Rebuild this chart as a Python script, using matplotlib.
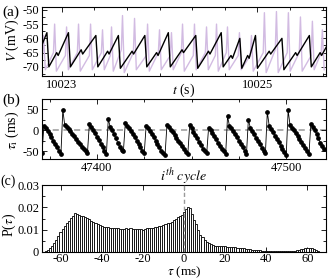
import numpy as np
import matplotlib
matplotlib.use("Agg")
import matplotlib.pyplot as plt
from matplotlib.ticker import MultipleLocator, FixedLocator, FuncFormatter

plt.rcParams['font.family'] = ['Liberation Serif', 'DejaVu Serif']
plt.rcParams['mathtext.fontset'] = 'stix'
plt.rcParams['axes.unicode_minus'] = False
plt.rcParams['font.size'] = 9

# ---- panel (a): membrane potential, vertices ----
black_t = [10022.78, 10022.85, 10022.87, 10022.95, 10022.965,
           10023.07, 10023.09, 10023.20, 10023.215,
           10023.35, 10023.37, 10023.47, 10023.485,
           10023.58, 10023.60, 10023.72, 10023.735,
           10023.85, 10023.87, 10023.97, 10023.985,
           10024.09, 10024.11, 10024.23, 10024.245,
           10024.37, 10024.39, 10024.50, 10024.515,
           10024.63, 10024.65, 10024.73, 10024.745,
           10024.82, 10024.84, 10024.90, 10024.915,
           10024.98, 10025.00, 10025.12, 10025.135,
           10025.25, 10025.27, 10025.39, 10025.405,
           10025.53, 10025.55, 10025.64, 10025.655, 10025.72]
black_v = [-64, -58, -70, -65, -66,
           -58, -70, -64, -65.5,
           -59, -70, -64.5, -65.5,
           -59, -70.5, -64.5, -65.5,
           -59, -70, -65, -66,
           -58, -70, -64, -65,
           -59, -70.5, -64.5, -65.5,
           -58, -70, -66, -67,
           -60, -70.5, -66, -67,
           -59, -70.5, -64.5, -65.5,
           -60, -71, -65, -66,
           -59, -70, -65, -66, -62]

purple_peak_t = [10022.816, 10022.929, 10023.051, 10023.173, 10023.296, 10023.418,
                 10023.510, 10023.622, 10023.745, 10023.878, 10024.000, 10024.122,
                 10024.235, 10024.357, 10024.480, 10024.582, 10024.694, 10024.816,
                 10024.939, 10025.071, 10025.194, 10025.316, 10025.439, 10025.561,
                 10025.663]
purple_peak_v = [-59, -55, -56, -55, -55, -57, -56, -52, -53, -55, -57, -58,
                 -55, -55, -56, -55, -56, -58, -59, -51, -50.6, -51, -52.5, -54, -57]
purple_pre_v = [-66, -65, -66, -65, -66, -65, -66, -64, -65, -66, -65, -66,
                -65, -66, -65, -66, -65, -66, -66, -65, -64, -65, -65, -66, -65]
purple_low_v = [-71, -71.5, -71, -71.5, -71, -71, -71.5, -72, -71, -71.5, -71, -71,
                -71.5, -71, -71, -71.5, -71, -71, -71.5, -72, -72, -71.5, -71.5, -71, -71]

# ---- panel (b): phase lag per cycle ----
cycle_first = 47371
tau_ms = [-55,
          10, 4, -2, -9, -17, -25, -33, -41, -49, -57,
          48, 12, 8, 3, -3, -9, -15, -21, -28, -34, -40, -46, -51, -55,
          14, 7, 0, -8, -16, -24, -33, -41, -50, -58,
          26, 8, 0, -10, -20, -30, -40, -48, -50,
          17, 10, 4, -2, -9, -17, -25, -33, -41, -49, -55,
          10, 4, -3, -10, -17, -25, -33, -41, -49, -55, -59,
          13, 7, 1, -5, -11, -18, -25, -32, -39, -46, -52, -58,
          11, 4, -4, -12, -20, -28, -36, -44, -50, -55,
          6, 0, -7, -14, -22, -30, -38, -46, -50, -58,
          33, 10, 4, -2, -9, -17, -25, -33, -41, -50, -57,
          25, 6, -2, -10, -18, -26, -34, -42, -50, -55,
          43, 10, 3, -5, -13, -21, -29, -37, -45, -53, -60,
          47, 12, 5, -1, -7, -14, -21, -28, -35, -42, -50, -58,
          15, 8, 1, -10, -20, -30, -38, -45]

# ---- panel (c): histogram of tau, 1 ms bins from -68 to 66 (units of 1e-3) ----
hist_first = -68
hist_vals = [0.1, 0.3, 0.8, 1.6, 2.5, 3.9, 5.4, 7.2, 8.8, 10.2,
             11.5, 12.8, 14.0, 15.2, 16.3, 17.3, 17.0, 16.6, 16.3, 16.0,
             15.7, 15.3, 14.8, 14.0, 13.5, 13.0, 12.5, 12.0, 11.6, 11.4,
             11.3, 11.1, 10.9, 10.8, 10.9, 10.6, 10.8, 10.5, 10.3, 10.1,
             10.6, 10.4, 10.6, 10.2, 10.5, 10.3, 10.1, 10.4, 10.0, 10.5,
             10.6, 10.7, 10.8, 10.9, 11.1, 11.3, 11.5, 11.7, 12.0, 12.4,
             12.8, 13.2, 13.6, 14.2, 14.8, 15.5, 16.2, 16.6, 18.0, 19.3,
             20.3, 19.5, 17.0, 14.5, 12.5, 10.0, 7.8, 6.5, 5.5, 4.6,
             4.0, 3.5, 3.1, 2.9, 2.8, 2.7, 2.6, 2.5, 2.5, 2.4,
             2.4, 2.3, 2.2, 2.1, 2.0, 1.9, 1.8, 1.6, 1.5, 1.4,
             1.2, 1.1, 1.0, 0.9, 0.8, 0.7, 0.6, 0.5, 0.45, 0.4,
             0.4, 0.35, 0.35, 0.3, 0.3, 0.3, 0.3, 0.3, 0.3, 0.35,
             0.4, 0.5, 0.6, 0.7, 0.9, 1.2, 1.5, 1.7, 1.8, 1.8,
             1.7, 1.5, 1.0, 0.4]

purple = '#d2bbe2'

fig = plt.figure(figsize=(3.32, 2.79), dpi=100)
W, H = 332.0, 279.0


def box(l, t, r, b):
    return [l / W, 1 - b / H, (r - l) / W, (b - t) / H]


def style(ax):
    ax.tick_params(direction='in', which='both', top=True, right=True,
                   labelsize=9, pad=2)
    ax.tick_params(which='major', length=3.5, width=0.6)
    ax.tick_params(which='minor', length=2, width=0.6)
    for s in ax.spines.values():
        s.set_linewidth(0.8)


# (a)
ax1 = fig.add_axes(box(42, 7, 326, 76))
pt, pv = [], []
for t, v, a, b in zip(purple_peak_t, purple_peak_v, purple_pre_v, purple_low_v):
    pt += [t - 0.012, t, t + 0.018]
    pv += [a, v, b]
ax1.plot(pt, pv, color=purple, lw=1.0)
ax1.plot(black_t, black_v, color='black', lw=1.0)
ax1.set_xlim(10022.8, 10025.7)
ax1.set_ylim(-73.2, -49)
ax1.xaxis.set_major_locator(FixedLocator([10023, 10025]))
ax1.xaxis.set_major_formatter(FuncFormatter(lambda v, p: f'{v:.0f}'))
ax1.xaxis.set_minor_locator(FixedLocator([10023 + k / 3 for k in range(-1, 9)]))
ax1.yaxis.set_major_locator(MultipleLocator(5))
ax1.yaxis.set_minor_locator(MultipleLocator(2.5))
style(ax1)
ax1.set_xlabel(r'$t$ (s)', fontsize=10)
ax1.xaxis.set_label_coords(0.5, -0.08)
ax1.set_ylabel(r'$V$ (mV)', fontsize=10)
ax1.yaxis.set_label_coords(-0.106, 0.52)
ax1.yaxis.label.set_va('center')

# (b)
ax2 = fig.add_axes(box(42, 99, 326, 159))
cycles = np.arange(cycle_first, cycle_first + len(tau_ms))
ax2.axhline(0, color='#999999', lw=1.1, dashes=(4, 3), zorder=1)
ax2.plot(cycles, tau_ms, color='black', lw=0.6, marker='o', ms=2.4, zorder=2)
ax2.set_xlim(47371, 47521)
ax2.set_ylim(-69, 74)
ax2.xaxis.set_major_locator(MultipleLocator(100))
ax2.xaxis.set_minor_locator(MultipleLocator(25))
ax2.yaxis.set_major_locator(MultipleLocator(50))
ax2.yaxis.set_minor_locator(MultipleLocator(25))
style(ax2)
ax2.set_xlabel(r'$i^{th}$ $cycle$', fontsize=10)
ax2.xaxis.set_label_coords(0.5, -0.12)
ax2.set_ylabel(r'$\tau_{\rm i}$ (ms)', fontsize=10)
ax2.yaxis.set_label_coords(-0.106, 0.48)
ax2.yaxis.label.set_va('center')

# (c)
ax3 = fig.add_axes(box(42, 185, 326, 252))
centers = np.arange(hist_first, hist_first + len(hist_vals))
ax3.bar(centers, np.array(hist_vals) * 1e-3, width=1.0, color='white',
        edgecolor='black', linewidth=0.6, zorder=2)
ax3.axvline(0, color='#999999', lw=1.0, dashes=(3, 2), zorder=3)
ax3.set_xlim(-69, 69)
ax3.set_ylim(0, 0.03)
ax3.xaxis.set_major_locator(MultipleLocator(20))
ax3.yaxis.set_major_locator(MultipleLocator(0.01))
ax3.yaxis.set_minor_locator(MultipleLocator(0.005))
ax3.yaxis.set_major_formatter(FuncFormatter(lambda v, p: '0' if abs(v) < 1e-9 else f'{v:.2f}'))
style(ax3)
ax3.tick_params(axis='x', pad=1)
ax3.set_xlabel(r'$\tau$ (ms)', fontsize=9.5)
ax3.xaxis.set_label_coords(0.5, -0.185)
ax3.set_ylabel(r'P($\tau$)', fontsize=10)
ax3.yaxis.set_label_coords(-0.115, 0.4)
ax3.yaxis.label.set_va('center')

fig.text(0.008, 0.957, '(a)', fontsize=11, va='center')
fig.text(0.008, 0.642, '(b)', fontsize=11, va='center')
fig.text(0.002, 0.35, '(c)', fontsize=10, va='center')

fig.savefig('out.png', dpi=100)
